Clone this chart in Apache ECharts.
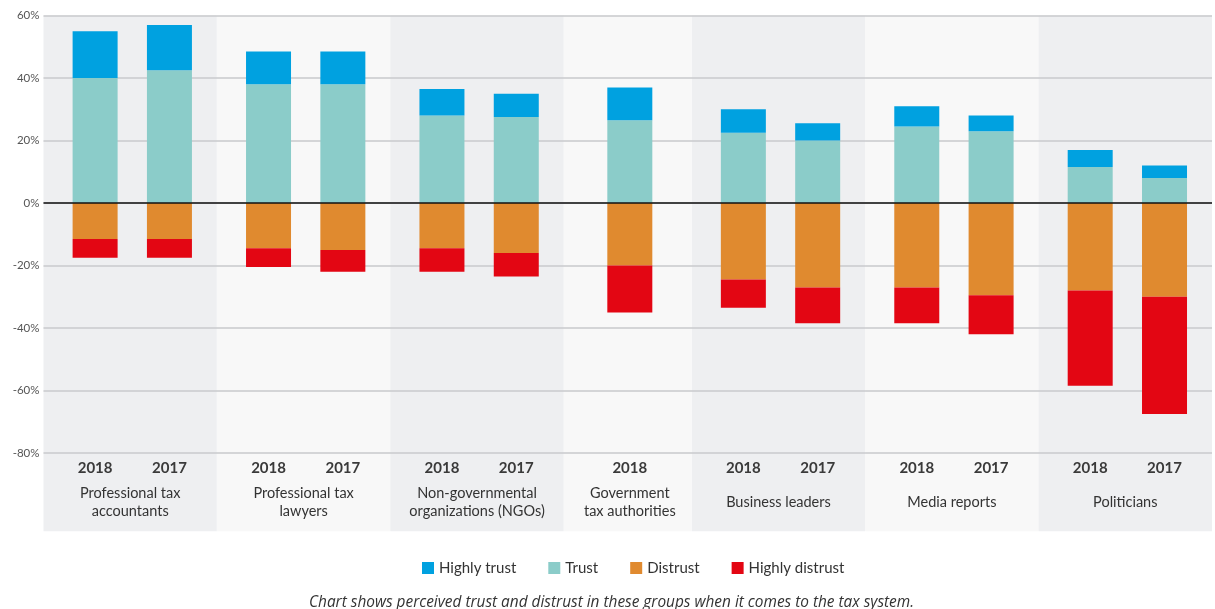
<!DOCTYPE html>
<html>
<head>
<meta charset="utf-8">
<script src="https://cdn.jsdelivr.net/npm/echarts@6/dist/echarts.min.js"></script>
<style>
html,body{margin:0;padding:0;background:#fff;}
#chart{width:1215px;height:609px;}
</style>
</head>
<body>
<div id="chart"></div>
<script>
// ---------- data ----------
const groupNames = [
  'Professional tax\naccountants',
  'Professional tax\nlawyers',
  'Non-governmental\norganizations (NGOs)',
  'Government\ntax authorities',
  'Business leaders',
  'Media reports',
  'Politicians'
];
const groupYears = [
  ['2018', '2017'],
  ['2018', '2017'],
  ['2018', '2017'],
  ['2018'],
  ['2018', '2017'],
  ['2018', '2017'],
  ['2018', '2017']
];
// one value per bar, in reading order (left to right)
const highlyTrust    = [15, 14.5, 10.5, 10.5, 8.5, 7.5, 10.5, 7.5, 5.5, 6.5, 5, 5.5, 4];
const trust          = [40, 42.5, 38, 38, 28, 27.5, 26.5, 22.5, 20, 24.5, 23, 11.5, 8];
const distrust       = [-11.5, -11.5, -14.5, -15, -14.5, -16, -20, -24.5, -27, -27, -29.5, -28, -30];
const highlyDistrust = [-6, -6, -6, -7, -7.5, -7.5, -15, -9, -11.5, -11.5, -12.5, -30.5, -37.5];
const seriesNames = ['Highly trust', 'Trust', 'Distrust', 'Highly distrust'];
const yTickMin = -120, yTickMax = 60, yTickStep = 20, yLabelFloor = -80;
const caption = 'Chart shows perceived trust and distrust in these groups when it comes to the tax system.';

// ---------- layout (slots on a fine category grid) ----------
const SLOT_PX = 175 / 84;
const layoutTwo = { slots: 84, bars: [25, 61], label: 42 };
const layoutOne = { slots: 62, bars: [32], label: 32 };
const bandBottom = -105;

let pos = 0;
const barPoint = [], barYear = [], labelPoint = [], bands = [];
groupYears.forEach((ys, g) => {
  const L = ys.length === 2 ? layoutTwo : layoutOne;
  L.bars.forEach((o, k) => { barPoint.push(pos + o); barYear.push(ys[k]); });
  labelPoint.push(pos + L.label);
  bands.push([pos, pos + L.slots]);
  pos += L.slots;
});
const nPoints = pos + 1;
const cats = Array.from({ length: nPoints }, (_, i) => 'p' + i);
const yearByCat = {}, groupByCat = {};
barPoint.forEach((p, i) => { yearByCat[cats[p]] = barYear[i]; });
labelPoint.forEach((p, i) => { groupByCat[cats[p]] = groupNames[i]; });
function spread(values) {
  const arr = new Array(nPoints).fill('-');
  values.forEach((v, i) => { arr[barPoint[i]] = v; });
  return arr;
}

const colors = {
  'Highly trust': '#00a1e0',
  'Trust': '#8bccc9',
  'Distrust': '#e08a2f',
  'Highly distrust': '#e30613'
};
const bandColors = ['#eeeff1', '#f8f8f8'];
const nTicks = (yTickMax - yTickMin) / yTickStep + 1;
const splitColors = [];
for (let i = 0; i < nTicks; i++) {
  const v = yTickMin + i * yTickStep;
  splitColors.push(v < yLabelFloor ? 'rgba(0,0,0,0)' : '#c9cacc');
}

const chart = echarts.init(document.getElementById('chart'));
const barBase = { type: 'bar', stack: 'all', barWidth: 45, xAxisIndex: 0, z: 4 };
const font = 'Lato, sans-serif';

chart.setOption({
  animation: false,
  textStyle: { fontFamily: font },
  title: {
    text: caption,
    left: 304,
    top: 590,
    textStyle: { fontSize: 15.4, fontStyle: 'italic', fontWeight: 'normal', color: '#333', fontFamily: '"Open Sans", sans-serif' }
  },
  legend: {
    data: seriesNames,
    left: 417,
    top: 555.5,
    icon: 'rect',
    itemWidth: 12,
    itemHeight: 12,
    itemGap: 32,
    textStyle: { fontSize: 15, color: '#333', fontFamily: font }
  },
  grid: { left: 43.5, top: 15.5, width: (nPoints - 1) * SLOT_PX, height: (yTickMax - yTickMin) * 3.125 },
  xAxis: [
    {
      type: 'category', data: cats, boundaryGap: false, position: 'bottom', z: 3,
      axisLine: { show: false, onZero: false }, axisTick: { show: false }, splitLine: { show: false },
      axisLabel: {
        interval: 0, inside: true, margin: 110, verticalAlign: 'middle',
        fontSize: 15, fontWeight: 'bold', color: '#3a3a3a',
        formatter: v => yearByCat[v] || ''
      }
    },
    {
      type: 'category', data: cats, boundaryGap: false, position: 'bottom', z: 3,
      axisLine: { show: false, onZero: false }, axisTick: { show: false }, splitLine: { show: false },
      axisLabel: {
        interval: 0, inside: true, margin: 75.5, verticalAlign: 'middle',
        fontSize: 14.5, lineHeight: 18.5, color: '#333',
        formatter: v => groupByCat[v] || ''
      }
    }
  ],
  yAxis: {
    type: 'value', min: yTickMin, max: yTickMax, interval: yTickStep, z: 3,
    axisLine: { show: false }, axisTick: { show: false },
    splitLine: { show: true, lineStyle: { color: splitColors, width: 1.5 } },
    axisLabel: {
      margin: 4, fontSize: 11.5, color: '#555',
      formatter: v => (v < yLabelFloor ? '' : v + '%')
    }
  },
  series: [
    {
      name: 'bands', type: 'line', data: [], xAxisIndex: 0, z: 0, silent: true,
      markArea: {
        silent: true, z: 0,
        data: bands.map((b, i) => [
          { xAxis: cats[b[0]], yAxis: yTickMax, itemStyle: { color: bandColors[i % 2] } },
          { xAxis: cats[b[1]], yAxis: bandBottom }
        ])
      }
    },
    Object.assign({}, barBase, { name: 'Trust', data: spread(trust), itemStyle: { color: colors['Trust'] } }),
    Object.assign({}, barBase, { name: 'Highly trust', data: spread(highlyTrust), itemStyle: { color: colors['Highly trust'] } }),
    Object.assign({}, barBase, { name: 'Distrust', data: spread(distrust), itemStyle: { color: colors['Distrust'] } }),
    Object.assign({}, barBase, { name: 'Highly distrust', data: spread(highlyDistrust), itemStyle: { color: colors['Highly distrust'] } }),
    {
      name: 'zero', type: 'line', data: [], xAxisIndex: 0, z: 6, silent: true,
      markLine: {
        silent: true, z: 6, symbol: ['none', 'none'], label: { show: false },
        lineStyle: { color: '#111', width: 1.5, type: 'solid' },
        data: [{ yAxis: 0 }]
      }
    }
  ]
});
</script>
</body>
</html>
